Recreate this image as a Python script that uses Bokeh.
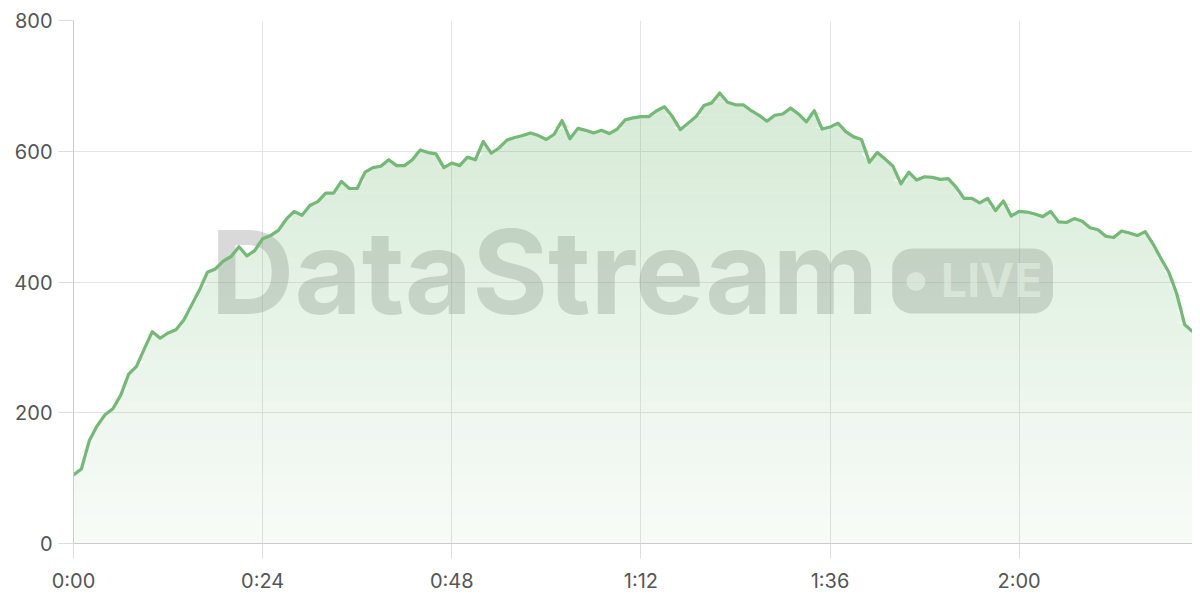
import numpy as np
from bokeh.plotting import figure
from bokeh.models import FixedTicker, Label, BoxAnnotation
from bokeh.embed import file_html
from bokeh.resources import INLINE

# ---- data (one point per minute) ----
minutes = list(range(143))
values = [
    105, 114, 157, 180, 197, 206, 227, 259, 271, 298,
    324, 314, 322, 327, 342, 365, 388, 415, 420, 432,
    439, 454, 440, 448, 466, 471, 479, 496, 508, 502,
    517, 523, 536, 536, 554, 543, 543, 568, 575, 577,
    587, 578, 578, 587, 602, 598, 596, 575, 582, 578,
    591, 587, 615, 597, 605, 617, 621, 624, 628, 624,
    618, 626, 647, 619, 635, 632, 628, 632, 627, 634,
    648, 651, 653, 653, 662, 668, 653, 633, 643, 653,
    670, 674, 689, 675, 671, 671, 662, 655, 646, 655,
    657, 666, 657, 645, 662, 634, 637, 643, 630, 622,
    618, 583, 598, 588, 577, 550, 568, 556, 561, 560,
    557, 558, 545, 528, 528, 521, 528, 509, 524, 501,
    508, 507, 504, 500, 508, 492, 491, 497, 493, 483,
    480, 470, 468, 478, 475, 471, 477, 458, 436, 415,
    382, 335, 324,
]
x_ticks = [0, 24, 48, 72, 96, 120]
x_tick_labels = ["0:00", "0:24", "0:48", "1:12", "1:36", "2:00"]
y_ticks = [0, 200, 400, 600, 800]

GREEN = "#74b976"
FONT = "Inter"
FRAME_H = 523

p = figure(
    output_backend="svg", toolbar_location=None,
    frame_width=1119, frame_height=FRAME_H,
    min_border_left=73, min_border_right=0, min_border_top=20, min_border_bottom=49,
    x_range=(0, 142), y_range=(0, 800),
)
p.outline_line_color = None
p.background_fill_color = "white"

# grid
p.xgrid.ticker = FixedTicker(ticks=x_ticks)
p.ygrid.ticker = FixedTicker(ticks=y_ticks)
for g in (p.xgrid, p.ygrid):
    g.grid_line_color = "#e4e4e4"
    g.grid_line_width = 1

# axes
p.xaxis.ticker = FixedTicker(ticks=x_ticks)
p.xaxis.major_label_overrides = {t: l for t, l in zip(x_ticks, x_tick_labels)}
p.yaxis.ticker = FixedTicker(ticks=y_ticks)
for ax in (p.xaxis, p.yaxis):
    ax.axis_line_color = "#cccccc"
    ax.major_tick_line_color = "#dddddd"
    ax.major_tick_out = 15
    ax.major_tick_in = 0
    ax.minor_tick_line_color = None
    ax.major_label_text_font = FONT
    ax.major_label_text_font_size = "20px"
    ax.major_label_text_color = "#555555"
p.yaxis.major_label_standoff = 6
p.xaxis.major_label_standoff = 10

# ---- watermark ----
wm = Label(x=17.4, y=415, text="DataStream", text_font=FONT, text_font_style="bold",
           text_font_size="116px", text_color="#808080", text_alpha=0.3,
           text_baseline="alphabetic", text_align="left", level="underlay")
p.add_layout(wm)
badge = BoxAnnotation(left=103.9, right=124.3, bottom=351.8, top=451.2,
                      fill_color="#808080", fill_alpha=0.3, line_color=None,
                      border_radius=20, level="underlay")
p.add_layout(badge)
live = Label(x=110.1, y=402.8, text="LIVE", text_font=FONT, text_font_style="bold",
             text_font_size="46px", text_color="white", text_alpha=0.6,
             text_baseline="alphabetic", text_align="left", level="underlay")
p.add_layout(live)
# dot of the badge (glyph level, drawn before the fill so it stays beneath it)
p.scatter(x=[106.9], y=[400.8], size=19, marker="circle", fill_color="white",
          fill_alpha=0.6, line_color=None)

# ---- vertical gradient fill: pixel-aligned horizontal bands ----
vals = np.array(values, dtype=float)
band_px = 13
unit_per_px = 800.0 / FRAME_H
n_bands = int(np.ceil(FRAME_H / band_px))
for k in range(n_bands):
    lo = k * band_px * unit_per_px
    hi = min((k + 1) * band_px * unit_per_px, 800.0)
    if lo >= vals.max():
        break
    mid = 0.5 * (lo + hi)
    alpha = 0.05 + 0.25 * min(mid / 690.0, 1.0)
    y2 = np.clip(vals, lo, hi)
    p.varea(x=minutes, y1=np.full_like(vals, lo), y2=y2,
            fill_color=GREEN, fill_alpha=alpha)

# ---- line ----
p.line(x=minutes, y=values, line_color=GREEN, line_width=3.2, line_join="round")

open("out.html", "w").write(file_html(p, INLINE))
